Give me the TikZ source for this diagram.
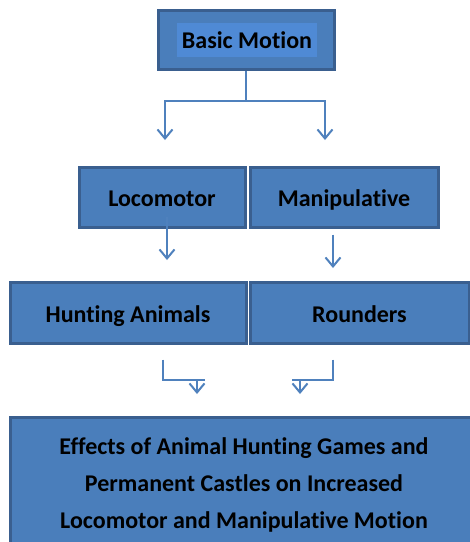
\documentclass[tikz,border=0pt]{standalone}
\usepackage{fontspec}
\setmainfont{Carlito}[Ligatures=NoCommon]
\usepackage{tikz}
\usetikzlibrary{arrows.meta}
\usetikzlibrary{positioning}
\definecolor{boxFill}{HTML}{4A7EBB}
\definecolor{boxLine}{HTML}{3A5F8F}
\definecolor{innerFill}{HTML}{4F8AD5}
\definecolor{arrowBlue}{HTML}{4F81BD}
\begin{document}
\begin{tikzpicture}
      [x=1pt,y=-1pt,
       motionBox/.style={rectangle,draw=boxLine,fill=boxFill,line width=3pt,inner sep=0pt,
         text height=19pt,text depth=0pt,font=\fontsize{24}{28}\selectfont\bfseries},
       flowLink/.style={draw=arrowBlue,line width=2pt},
       flowArrow/.style={flowLink,-{Straight Barb[length=9pt,width=15pt,line width=2pt]}}]
      \clip (0,0) rectangle (470,542);
      \useasboundingbox (0,0) rectangle (470,542);
      \node[motionBox,minimum width=176pt,minimum height=59pt] (basic) at (246,39.5) {};
      \node[rectangle,fill=innerFill,minimum width=140pt,minimum height=34pt,inner sep=0pt,
        text height=17pt,text depth=0pt,font=\fontsize{24}{28}\selectfont\bfseries] (basicText) at (247,40) {Basic Motion};
      \node[motionBox,minimum width=166pt,minimum height=60pt] (loco) at (162,197) {Locomotor};
      \node[motionBox,minimum width=188pt,minimum height=60pt] (manip) at (344,197) {Manipulative};
      \node[motionBox,minimum width=236pt,minimum height=61pt] (hunt) at (128,312.5) {Hunting Animals};
      \node[motionBox,minimum width=219pt,minimum height=61pt] (round) at (359.5,312.5) {Rounders};
      \node[motionBox,minimum width=468pt,minimum height=135pt,align=center,text height=,text depth=,
        font=\fontsize{24}{37}\selectfont\bfseries] (effects) at (244,485)
        {Effects of Animal Hunting Games and\\Permanent Castles on Increased\\Locomotor and Manipulative Motion};
      \coordinate (split) at (246,101);
      \coordinate (locoTip) at (165,140);
      \coordinate (manipTip) at (325,140);
      \draw[flowLink] (basic.south) -- (split);
      \draw[flowArrow] (split) -| (locoTip);
      \draw[flowArrow] (split) -| (manipTip);
      \coordinate (huntTip) at (167,260);
      \coordinate (roundTip) at (333,268);
      \draw[flowArrow] ([xshift=5pt,yshift=12pt]loco.south) -- (huntTip);
      \draw[flowArrow] ([xshift=-11pt,yshift=-6pt]manip.south) -- (roundTip);
      \coordinate (effectsTipL) at (197,394);
      \coordinate (effectsTipR) at (300,394);
      \draw[flowArrow] ([xshift=35pt,yshift=-15pt]hunt.south) |- (205,380) (197,380) -- (effectsTipL);
      \draw[flowArrow] ([xshift=-26.5pt,yshift=-15pt]round.south) |- (292,380) (300,380) -- (effectsTipR);
    \end{tikzpicture}
\end{document}
